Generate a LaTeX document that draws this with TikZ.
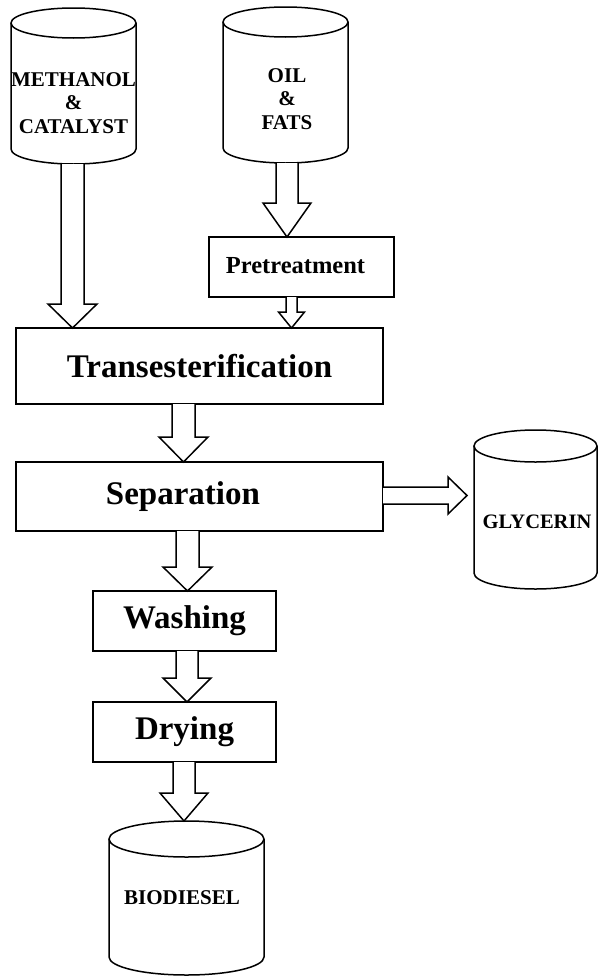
\documentclass[tikz,border=0pt]{standalone}
\usepackage{fontspec}
\setmainfont{Liberation Serif}
\begin{document}
\begin{tikzpicture}[x=1pt,y=-1pt,
  ln/.style={line width=1.5pt, line join=miter},
  box/.style={ln, draw, rectangle, inner sep=0pt, outer sep=0pt},
  big/.style={font=\fontsize{33}{38}\selectfont\bfseries},
  mid/.style={font=\fontsize{24.5}{28}\selectfont\bfseries},
  small/.style={font=\fontsize{21}{23.5}\selectfont\bfseries, align=center},
  blk/.style={ln, fill=white}]
\useasboundingbox (0,0) rectangle (598,977);

% cylinder: name, cx, rx, ytop, ybot, ry
\newcommand\drum[6]{%
  \node[minimum width={2*#3}, minimum height={#5-#4+2*#6}, inner sep=0pt, outer sep=0pt] (#1) at (#2,{(#4+#5)/2}) {};
  \draw[ln] (#2-#3,#4) -- (#2-#3,#5) arc[start angle=180, end angle=0, x radius=#3, y radius=#6] -- (#2+#3,#4);
  \draw[ln] (#2,#4) ellipse[x radius=#3, y radius=#6];
}
% vertical block arrow: from anchor, to anchor, cx, half shaft, half head, head base y
\newcommand\blkdown[6]{%
  \draw[blk] (#3-#4,0 |- #1) -- (#3-#4,#6) -- (#3-#5,#6) -- (#3,0 |- #2) -- (#3+#5,#6) -- (#3+#4,#6) -- (#3+#4,0 |- #1);
}

% storage drums
\drum{meth}{73.5}{62.5}{23}{149}{15}
\drum{oil}{285.5}{62.5}{22}{148}{15}
\drum{glyc}{535.5}{61.5}{446}{573}{16}
\drum{bio}{186.5}{77.5}{839}{957}{18}

\node[small] (methtxt) at (73.5,103) {METHANOL\\\&\\CATALYST};
\node[small] (oiltxt) at (287,99) {OIL\\\&\\FATS};
\node[small, font=\fontsize{20.5}{23}\selectfont\bfseries] (glyctxt) at (537,522) {GLYCERIN};
\node[small] (biotxt) at (182,898) {BIODIESEL};

% process boxes
\node[box, minimum width=185, minimum height=60] (pre) at (301.5,267) {};
\node[mid] (pretxt) at (295.5,266) {Pretreatment};
\node[box, big, minimum width=367, minimum height=76] (trans) at (199.5,366) {Transesterification};
\node[box, minimum width=367, minimum height=69] (sep) at (199.5,496.5) {};
\node[big] (septxt) at (183,497) {Separation};
\node[box, big, minimum width=183, minimum height=60] (wash) at (184.5,621) {Washing};
\node[box, big, minimum width=183, minimum height=60] (dry) at (184.5,732) {Drying};

% block arrows
\blkdown{meth.south}{trans.north}{72.5}{11.5}{24.5}{304}
\blkdown{oil.south}{pre.north}{287}{11}{24}{203}
\blkdown{pre.south}{trans.north}{291.5}{5.5}{13}{312}
\blkdown{trans.south}{sep.north}{183.5}{11.5}{24.5}{437}
\blkdown{sep.south}{wash.north}{187.5}{11.5}{24.5}{567}
\blkdown{wash.south}{dry.north}{187}{11}{24}{678}
\blkdown{dry.south}{bio.north}{184}{11}{24}{793}

\coordinate (gtip) at (467,495.5);
\draw[blk] (sep.east |- 0,487) -- (448,487) -- (448,477) -- (gtip) -- (448,514) -- (448,504) -- (sep.east |- 0,504);
\end{tikzpicture}
\end{document}
